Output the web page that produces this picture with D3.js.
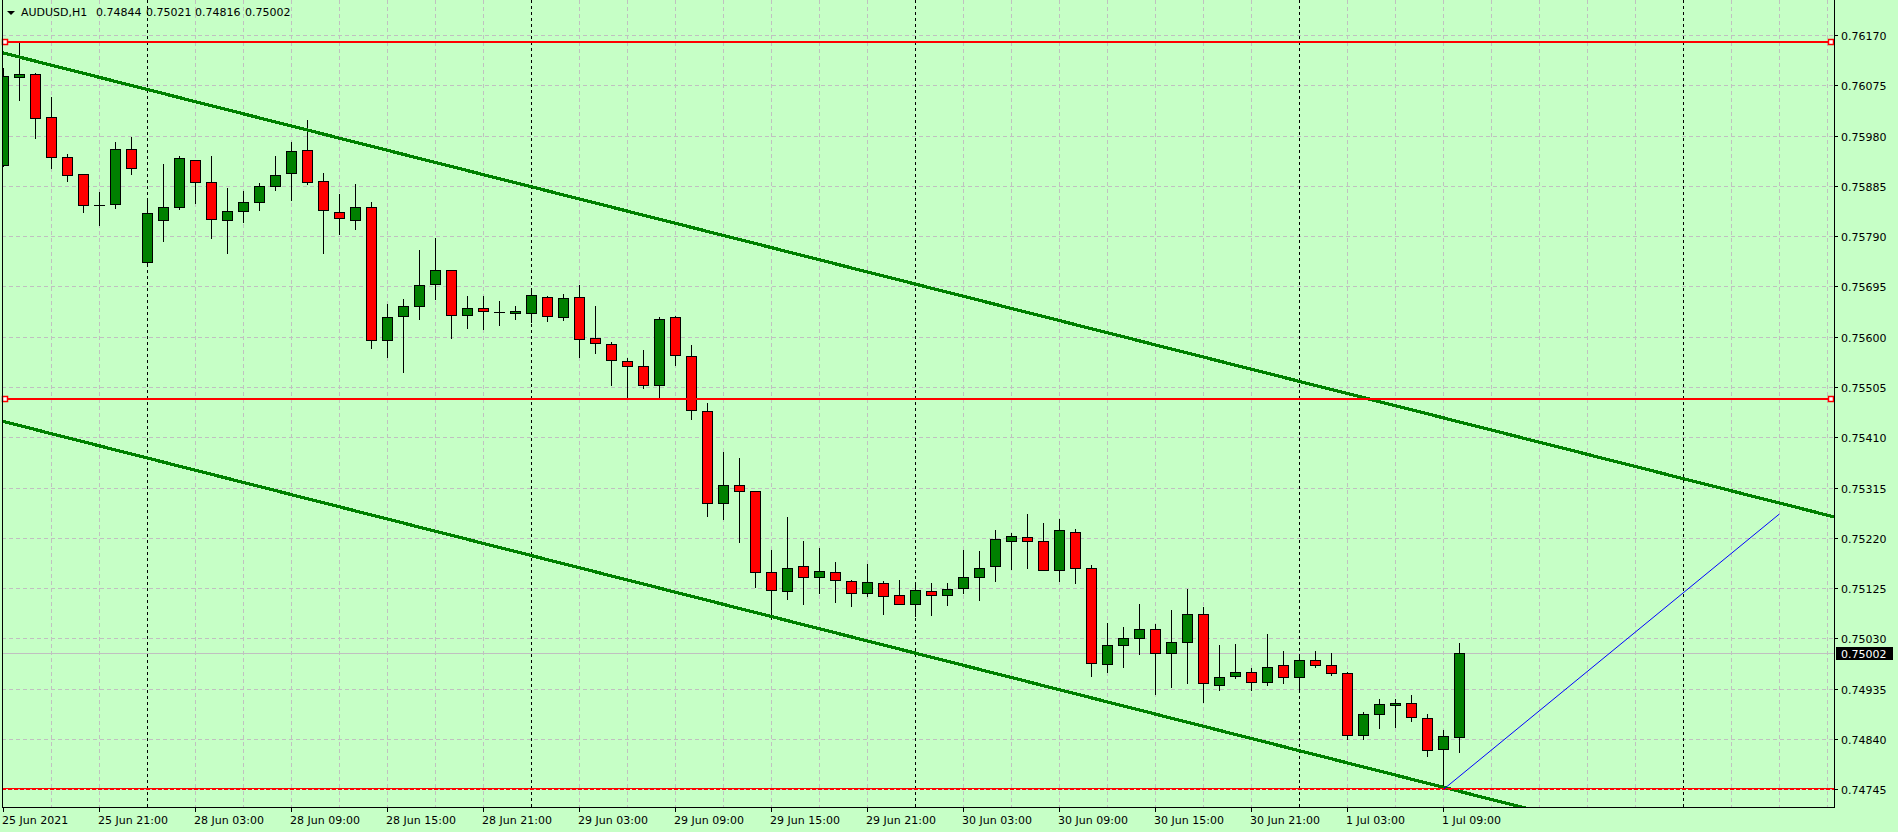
<!DOCTYPE html>
<html><head><meta charset="utf-8">
<script src="https://cdn.jsdelivr.net/npm/d3@7"></script>
<style>html,body{margin:0;padding:0;background:#c6ffc6;overflow:hidden}</style>
</head><body><svg id="chart" width="1898" height="832"></svg>
<script>
// ---------------- DATA ----------------
const symbolLabel = "AUDUSD,H1";
const headerValues = [0.74844, 0.75021, 0.74816, 0.75002];

const opens = [0.75925,0.76090,0.76096,0.76016,0.75939,0.75907,0.75849,0.75850,0.75954,0.75741,
0.75821,0.75846,0.75933,0.75892,0.75820,0.75837,0.75854,0.75884,0.75909,0.75952,
0.75894,0.75835,0.75821,0.75846,0.75594,0.75639,0.75658,0.75699,0.75726,0.75641,
0.75654,0.75647,0.75644,0.75644,0.75675,0.75637,0.75676,0.75597,0.75586,0.75554,
0.75544,0.75508,0.75637,0.75563,0.75459,0.75285,0.75319,0.75308,0.75155,0.75119,
0.75166,0.75146,0.75155,0.75138,0.75115,0.75134,0.75112,0.75095,0.75119,0.75113,
0.75125,0.75146,0.75166,0.75215,0.75221,0.75214,0.75159,0.75232,0.75163,0.74981,
0.75017,0.75030,0.75047,0.75002,0.75023,0.75076,0.74943,0.74959,0.74966,0.74947,
0.74979,0.74957,0.74989,0.74979,0.74964,0.74847,0.74887,0.74904,0.74908,0.74879,
0.74821,0.74844];
const highs = [0.76108,0.76159,0.76098,0.76053,0.75945,0.75907,0.75873,0.75968,0.75978,0.75858,
0.75926,0.75941,0.75934,0.75941,0.75881,0.75875,0.75890,0.75941,0.75968,0.76009,
0.75909,0.75870,0.75889,0.75854,0.75662,0.75671,0.75764,0.75787,0.75727,0.75677,
0.75677,0.75668,0.75658,0.75688,0.75677,0.75681,0.75698,0.75658,0.75591,0.75559,
0.75575,0.75637,0.75639,0.75584,0.75475,0.75382,0.75371,0.75308,0.75197,0.75259,
0.75214,0.75201,0.75174,0.75140,0.75171,0.75138,0.75140,0.75136,0.75134,0.75134,
0.75197,0.75195,0.75234,0.75229,0.75266,0.75248,0.75255,0.75236,0.75168,0.75059,
0.75051,0.75096,0.75057,0.75083,0.75123,0.75089,0.75017,0.75019,0.74974,0.75038,
0.75006,0.74996,0.75006,0.75002,0.74966,0.74892,0.74915,0.74915,0.74923,0.74887,
0.74858,0.75021];
const lows = [0.75922,0.76048,0.75976,0.75919,0.75895,0.75836,0.75812,0.75844,0.75908,0.75740,
0.75781,0.75842,0.75853,0.75787,0.75759,0.75817,0.75840,0.75878,0.75859,0.75888,
0.75759,0.75795,0.75804,0.75579,0.75562,0.75534,0.75634,0.75672,0.75598,0.75617,
0.75615,0.75623,0.75634,0.75627,0.75630,0.75632,0.75562,0.75570,0.75508,0.75484,
0.75503,0.75484,0.75546,0.75444,0.75262,0.75256,0.75213,0.75128,0.75066,0.75104,
0.75096,0.75115,0.75098,0.75091,0.75110,0.75076,0.75095,0.75072,0.75074,0.75093,
0.75115,0.75102,0.75138,0.75162,0.75164,0.75159,0.75138,0.75134,0.74959,0.74966,
0.74976,0.75001,0.74925,0.74938,0.74945,0.74910,0.74932,0.74955,0.74932,0.74943,
0.74945,0.74932,0.74976,0.74961,0.74841,0.74841,0.74860,0.74862,0.74874,0.74808,
0.74745,0.74816];
const closes = [0.76092,0.76096,0.76014,0.75939,0.75905,0.75848,0.75849,0.75954,0.75918,0.75833,
0.75846,0.75937,0.75892,0.75822,0.75837,0.75854,0.75884,0.75905,0.75950,0.75892,
0.75839,0.75824,0.75846,0.75593,0.75637,0.75658,0.75697,0.75726,0.75641,0.75654,
0.75648,0.75647,0.75648,0.75678,0.75639,0.75673,0.75595,0.75588,0.75556,0.75544,
0.75508,0.75633,0.75565,0.75461,0.75285,0.75319,0.75308,0.75155,0.75121,0.75164,
0.75146,0.75157,0.75140,0.75115,0.75136,0.75110,0.75095,0.75121,0.75113,0.75123,
0.75146,0.75164,0.75217,0.75223,0.75214,0.75159,0.75234,0.75163,0.74983,0.75017,
0.75030,0.75047,0.75002,0.75023,0.75076,0.74945,0.74957,0.74966,0.74947,0.74977,
0.74957,0.74989,0.74979,0.74964,0.74847,0.74887,0.74906,0.74908,0.74881,0.74819,
0.74845,0.75002];

const xTickBars = [0,6,12,18,24,30,36,42,48,54,60,66,72,78,84,90];
const xTickLabels = ["25 Jun 2021","25 Jun 21:00","28 Jun 03:00","28 Jun 09:00","28 Jun 15:00",
"28 Jun 21:00","29 Jun 03:00","29 Jun 09:00","29 Jun 15:00","29 Jun 21:00","30 Jun 03:00",
"30 Jun 09:00","30 Jun 15:00","30 Jun 21:00","1 Jul 03:00","1 Jul 09:00"];
const yTickValues = [0.76170,0.76075,0.75980,0.75885,0.75790,0.75695,0.75600,0.75505,
0.75410,0.75315,0.75220,0.75125,0.75030,0.74935,0.74840,0.74745];
const daySeparatorBars = [9,33,57,81,105];
const redLevels = [0.76157, 0.75483];
const supportLevel = 0.74745;
const upperChannel = [[0,0.76136],[114,0.75263]];
const lowerChannel = [[0,0.75440],[90,0.74749]];
const blueLine = [[90,0.74745],[111,0.75265]];
const currentPrice = 0.75002;

// ---------------- LAYOUT ----------------
const W = 1898, H = 832;
const plotL = 2, plotR = 1834, plotT = 0, plotB = 807;
const BG = "#c6ffc6";
const svg = d3.select("#chart");
svg.append("rect").attr("width",W).attr("height",H).attr("fill",BG);

const x = d3.scaleLinear().domain([0,114]).range([3.3,1827.3]);
const y = d3.scaleLinear().domain([0.74745,0.76170]).range([789.35,35]);
const px = i => Math.floor(x(i)) + 0.5;
const py = p => Math.round(y(p)) + 0.5;

svg.append("defs").append("clipPath").attr("id","plotclip")
  .append("rect").attr("x",plotL+1).attr("y",plotT).attr("width",plotR-plotL-1).attr("height",plotB-plotT);

const plot = svg.append("g").attr("clip-path","url(#plotclip)");
const font = "'DejaVu Sans', sans-serif";

// horizontal grid
plot.selectAll("line.hg").data(yTickValues).join("line")
  .attr("x1",plotL).attr("x2",plotR).attr("y1",d=>py(d)).attr("y2",d=>py(d))
  .attr("stroke","#c0c0c0").attr("stroke-dasharray","4,3").attr("shape-rendering","crispEdges");

// vertical grid
const gridBars = d3.range(3,115,3).filter(b=>!daySeparatorBars.includes(b));
plot.selectAll("line.vg").data(gridBars).join("line")
  .attr("x1",d=>px(d)).attr("x2",d=>px(d)).attr("y1",plotT).attr("y2",plotB)
  .attr("stroke","#c0c0c0").attr("stroke-dasharray","4,3").attr("shape-rendering","crispEdges");

// day separators
plot.selectAll("line.ds").data(daySeparatorBars).join("line")
  .attr("x1",d=>px(d)).attr("x2",d=>px(d)).attr("y1",plotT).attr("y2",plotB)
  .attr("stroke","#000").attr("stroke-dasharray","3,3").attr("shape-rendering","crispEdges");

// current price line
plot.append("line").attr("x1",plotL).attr("x2",plotR)
  .attr("y1",py(currentPrice)).attr("y2",py(currentPrice))
  .attr("stroke","#c0c0c0").attr("shape-rendering","crispEdges");

// candles
const bars = opens.map((o,i)=>({i,o,h:highs[i],l:lows[i],c:closes[i]}));
const cg = plot.append("g").attr("shape-rendering","crispEdges");
cg.selectAll("line.wick").data(bars).join("line")
  .attr("x1",d=>px(d.i)).attr("x2",d=>px(d.i))
  .attr("y1",d=>Math.round(y(d.h))).attr("y2",d=>Math.round(y(d.l))+1)
  .attr("stroke","#000").attr("stroke-width",1);
cg.selectAll("rect.body").data(bars.filter(d=>d.o!==d.c)).join("rect")
  .attr("x",d=>Math.floor(x(d.i))-5+0.5)
  .attr("y",d=>Math.round(y(Math.max(d.o,d.c)))+0.5)
  .attr("width",10)
  .attr("height",d=>Math.max(1,Math.round(y(Math.min(d.o,d.c)))-Math.round(y(Math.max(d.o,d.c)))))
  .attr("fill",d=>d.c>d.o?"#008000":"#ff0000")
  .attr("stroke","#000").attr("stroke-width",1);
cg.selectAll("line.doji").data(bars.filter(d=>d.o===d.c)).join("line")
  .attr("x1",d=>Math.floor(x(d.i))-5).attr("x2",d=>Math.floor(x(d.i))+6)
  .attr("y1",d=>py(d.o)).attr("y2",d=>py(d.o))
  .attr("stroke","#000").attr("stroke-width",1);

// trend lines (extended)
function extend(pts, b0, b1){
  const [[xa,ya],[xb,yb]] = pts; const s=(yb-ya)/(xb-xa);
  return [[b0, ya+s*(b0-xa)],[b1, ya+s*(b1-xa)]];
}
[upperChannel, lowerChannel].forEach(pts=>{
  const e = extend(pts,-1,116);
  plot.append("line").attr("x1",x(e[0][0])).attr("y1",y(e[0][1]))
    .attr("x2",x(e[1][0])).attr("y2",y(e[1][1]))
    .attr("stroke","#008000").attr("stroke-width",3.2).attr("shape-rendering","crispEdges");
});

// red horizontal levels
redLevels.forEach(p=>{
  plot.append("line").attr("x1",plotL).attr("x2",plotR).attr("y1",Math.round(y(p))).attr("y2",Math.round(y(p)))
    .attr("stroke","#ff0000").attr("stroke-width",2).attr("shape-rendering","crispEdges");
  [5,1831].forEach(cx=>{
    svg.append("rect").attr("x",cx-2.5).attr("y",Math.round(y(p))-2.5).attr("width",5).attr("height",5)
      .attr("fill","#fff").attr("stroke","#ff0000").attr("stroke-width",1.5);
  });
});
// support level (double red, lower dotted)
plot.append("line").attr("x1",plotL).attr("x2",plotR).attr("y1",py(supportLevel)-1).attr("y2",py(supportLevel)-1)
  .attr("stroke","#ff0000").attr("shape-rendering","crispEdges");
plot.append("line").attr("x1",plotL).attr("x2",plotR).attr("y1",py(supportLevel)).attr("y2",py(supportLevel))
  .attr("stroke","#ff0000").attr("stroke-dasharray","4,2").attr("shape-rendering","crispEdges");

// blue line
plot.append("line").attr("x1",px(blueLine[0][0])).attr("y1",y(blueLine[0][1]))
  .attr("x2",x(blueLine[1][0])).attr("y2",y(blueLine[1][1]))
  .attr("stroke","#0000ff").attr("stroke-width",1);

// frame
svg.append("path").attr("d",`M${plotL+0.5},${plotT} V${plotB+0.5} H${plotR+0.5} V${plotT}`)
  .attr("fill","none").attr("stroke","#000").attr("shape-rendering","crispEdges");

// y axis
const ya = svg.append("g");
ya.selectAll("line").data(yTickValues).join("line")
  .attr("x1",plotR).attr("x2",plotR+4).attr("y1",d=>py(d)).attr("y2",d=>py(d))
  .attr("stroke","#000").attr("shape-rendering","crispEdges");
ya.selectAll("text").data(yTickValues).join("text")
  .attr("x",plotR+7).attr("y",d=>Math.round(y(d))+4.5)
  .attr("font-family",font).attr("font-size",11).attr("fill","#000")
  .text(d=>d.toFixed(5));

// current price label
svg.append("rect").attr("x",plotR+2).attr("y",Math.round(y(currentPrice))-6).attr("width",57).attr("height",13)
  .attr("fill","#000");
svg.append("text").attr("x",plotR+7).attr("y",Math.round(y(currentPrice))+4.5)
  .attr("font-family",font).attr("font-size",11).attr("fill","#fff").text(currentPrice.toFixed(5));

// x axis
const xa = svg.append("g");
xa.selectAll("line").data(xTickBars).join("line")
  .attr("x1",d=>px(d)).attr("x2",d=>px(d)).attr("y1",plotB).attr("y2",plotB+5)
  .attr("stroke","#000").attr("shape-rendering","crispEdges");
xa.selectAll("text").data(xTickBars).join("text")
  .attr("x",d=>Math.floor(x(d))-1).attr("y",824)
  .attr("font-family",font).attr("font-size",11).attr("fill","#000")
  .text((d,k)=>xTickLabels[k]);

// header
svg.append("path").attr("d","M7,11 L15,11 L11,15 Z").attr("fill","#000");
svg.append("text").attr("x",21).attr("y",16).attr("font-family",font).attr("font-size",11).text(symbolLabel);
const hx = [96,146,195,245];
svg.selectAll("text.hv").data(headerValues).join("text")
  .attr("x",(d,k)=>hx[k]).attr("y",16).attr("font-family",font).attr("font-size",11)
  .text(d=>d.toFixed(5));
</script></body></html>
